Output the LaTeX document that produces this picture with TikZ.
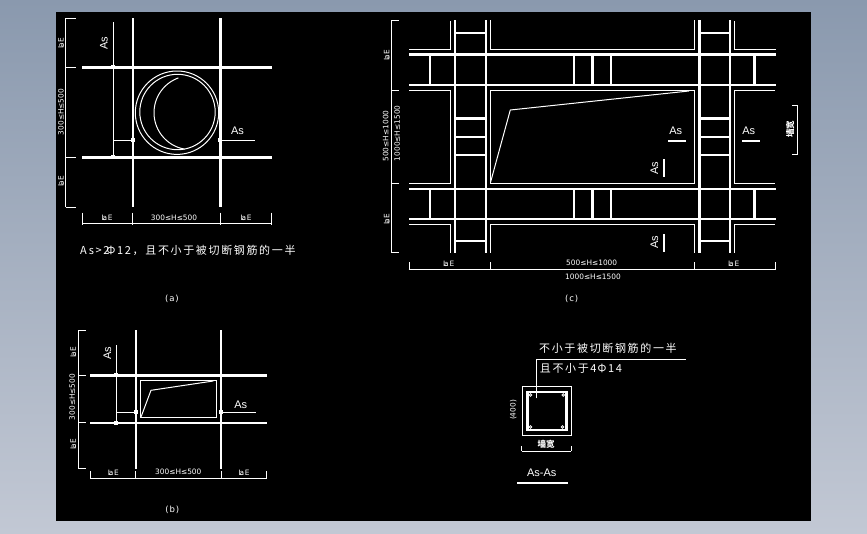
\documentclass[tikz,border=0pt]{standalone}
\usepackage{fontspec}
\setmainfont{DejaVu Sans}
\newfontfamily\cjkspaced[LetterSpace=15]{Noto Sans CJK SC}
\newfontfamily\cjkplain{Noto Sans CJK SC}
\newfontfamily\latspaced{Liberation Sans}
\newcommand{\LaE}{L\kern-.42em a\kern.1em E}
\definecolor{bgtop}{RGB}{138,153,174}
\definecolor{bgbot}{RGB}{194,200,212}
\tikzset{
  thk/.style={draw=white,line width=2.4pt},
  thkb/.style={draw=white,line width=3.2pt},
  thn/.style={draw=white,line width=1pt},
  mid/.style={draw=white,line width=1.6pt},
  dimtxt/.style={text=white,inner sep=0pt,font=\fontsize{7.4}{8}\selectfont},
  astxt/.style={text=white,inner sep=0pt,font=\latspaced\fontsize{11}{12}\selectfont},
  captxt/.style={text=white,inner sep=0pt,font=\fontsize{8.5}{9}\selectfont\addfontfeature{LetterSpace=10}},
  cntxt/.style={text=white,inner sep=0pt,anchor=west,font=\cjkspaced\fontsize{11}{12}\selectfont},
  walltxt/.style={text=white,inner sep=0pt,font=\cjkplain\bfseries\fontsize{8.5}{9}\selectfont}
}
\begin{document}
\begin{tikzpicture}[x=1pt,y=-1pt]
\useasboundingbox (0,0) rectangle (867,533);
\shade[top color=bgtop,bottom color=bgbot] (0,0) rectangle (867,533);
\fill[black] (56,12) rectangle (811,521);

%% ---------- panel (a)
\draw[thk] (132.7,18)--(132.7,207) (220.3,18)--(220.3,207);
\draw[thk] (82.3,67.3)--(271.7,67.3) (82.3,157.3)--(271.7,157.3);
\draw[thn] (65.7,18)--(65.7,207);
\foreach \y in {18,67.3,157.3,207} \draw[thn] (65.7,\y)--(75.7,\y);
\draw[thn] (82.3,223.7)--(271.7,223.7);
\foreach \x in {82.3,132.5,220.3,271.7} \draw[thn] (\x,212.7)--(\x,224.5);
\draw[thn] (113.3,22.3)--(113.3,157.3) (113.3,140.3)--(132.7,140.3) (220.3,140.3)--(255,140.3);
\foreach \x/\y in {113.3/67.3,113.3/157.3,132.7/140.3,220.3/140.3}
  \fill[white] (\x-2,\y-2) rectangle (\x+2,\y+2);
\draw[thn] (177,112.7) circle[radius=41.7pt];
\draw[thn] (177.5,112) circle[radius=37.7pt];
\draw[thn] plot[domain=100:250,samples=40,smooth] ({191+37*cos(\x)},{112.7+37*sin(\x)});
\node[astxt,rotate=90] (asa1) at (104,43) {As};
\node[astxt] (asa2) at (237.5,131) {As};
\node[dimtxt,rotate=90] (da1) at (61,43) {\LaE};
\node[dimtxt,rotate=90] (da2) at (61,112) {300≤H≤500};
\node[dimtxt,rotate=90] (da3) at (61,181) {\LaE};
\node[dimtxt] (da4) at (107,218) {\LaE};
\node[dimtxt] (da5) at (174,218) {300≤H≤500};
\node[dimtxt] (da6) at (246,218) {\LaE};
\node[cntxt] (mainnote) at (80,250) {As>2\kern-.25em Φ12，且不小于被切断钢筋的一半};
\node[captxt] (capa) at (172,299) {(a)};

%% ---------- panel (b)
\draw[thk] (136,330)--(136,468.7) (221,330)--(221,468.7);
\draw[thkb] (90,375.3)--(267,375.3);
\draw[thk] (90,423)--(267,423);
\draw[thn] (78.3,330)--(78.3,468);
\foreach \y in {330,375.3,422.3,468} \draw[thn] (78.3,\y)--(85.7,\y);
\draw[thn] (90.3,478.3)--(266.7,478.3);
\foreach \x in {90.3,135.7,221,266.7} \draw[thn] (\x,471)--(\x,479);
\draw[thn] (116.3,345)--(116.3,423) (116.3,412)--(136,412) (221,412)--(256,412);
\foreach \x/\y in {116.3/375.3,116.3/423,136/412,221/412}
  \fill[white] (\x-2,\y-2) rectangle (\x+2,\y+2);
\draw[thn] (140.3,380.3) rectangle (216.7,417.7);
\draw[thn] (141,417)--(151,390.3)--(213.3,381);
\node[astxt,rotate=90] (asb1) at (107.3,353) {As};
\node[astxt] (asb2) at (240.7,405) {As};
\node[dimtxt,rotate=90] (db1) at (73.3,352) {\LaE};
\node[dimtxt,rotate=90] (db2) at (72.3,397) {300≤H≤500};
\node[dimtxt,rotate=90] (db3) at (73.3,444) {\LaE};
\node[dimtxt] (db4) at (113.3,473) {\LaE};
\node[dimtxt] (db5) at (178.3,472) {300≤H≤500};
\node[dimtxt] (db6) at (244,473) {\LaE};
\node[captxt] (capb) at (172.3,510) {(b)};

%% ---------- panel (c)
\foreach \x in {455,485.7,699.3,730} \draw[thk] (\x,20)--(\x,252.7);
\draw[thkb] (409,54.3)--(776,54.3);
\foreach \y in {85,189,219} \draw[thk] (409,\y)--(776,\y);
\foreach \xa/\xb in {455/485.7,699.3/730}{
  \foreach \y in {33,137,155,240.7} \draw[white,line width=1.7pt] (\xa,\y)--(\xb,\y);
  \draw[white,line width=2.8pt] (\xa,118.3)--(\xb,118.3);
}
\foreach \x in {430,574,592.3,611,754.3}{
  \draw[thk] (\x,54.3)--(\x,85);
  \draw[thk] (\x,189)--(\x,219);
}
\draw[thn] (450.3,21)--(450.3,49.3)--(409,49.3);
\draw[thn] (490.3,20)--(490.3,49.3)--(694.7,49.3)--(694.7,20);
\draw[thn] (734.3,21)--(734.3,49.3)--(776,49.3);
\draw[thn] (409,90.3)--(450.3,90.3)--(450.3,183.3)--(409,183.3);
\draw[thn] (490.3,90.3) rectangle (694.7,183.3);
\draw[thn] (775,90.3)--(734.3,90.3)--(734.3,183.3)--(775,183.3);
\draw[thn] (409,224.3)--(450.3,224.3)--(450.3,252.7);
\draw[thn] (490.3,252.7)--(490.3,224.3)--(694.7,224.3)--(694.7,252.7);
\draw[thn] (734.3,252.7)--(734.3,224.3)--(775,224.3);
\draw[thn] (490.7,181.7)--(510.3,110)--(689,91);
\draw[thn] (391.7,20.3)--(391.7,252.7);
\foreach \y in {20.3,90.3,183.3,252.7} \draw[thn] (391.7,\y)--(399,\y);
\draw[thn] (408.5,269.3)--(776,269.3);
\foreach \x in {409,490.3,694.3,775.3} \draw[thn] (\x,262.3)--(\x,270);
\draw[thn] (797.7,105)--(797.7,154.3) (792.3,105)--(797.7,105) (792.3,154.3)--(797.7,154.3);
\draw[mid] (668,141)--(686,141) (742.3,141)--(760,141);
\draw[mid] (663.7,159)--(663.7,176.7) (663.7,234)--(663.7,251.7);
\node[astxt] (asc1) at (675.7,131) {As};
\node[astxt] (asc2) at (748.7,131) {As};
\node[astxt,rotate=90] (asc3) at (654.3,168.3) {As};
\node[astxt,rotate=90] (asc4) at (654.3,242.3) {As};
\node[dimtxt,rotate=90] (dc1) at (386.7,55) {\LaE};
\node[dimtxt,rotate=90] (dc2) at (385.7,136) {500≤H≤1000};
\node[dimtxt,rotate=90] (dc3) at (397.3,133.3) {1000≤H≤1500};
\node[dimtxt,rotate=90] (dc4) at (386.7,219) {\LaE};
\node[dimtxt] (dc5) at (448.7,264.3) {\LaE};
\node[dimtxt] (dc6) at (591.7,263.3) {500≤H≤1000};
\node[dimtxt] (dc7) at (593,277.3) {1000≤H≤1500};
\node[dimtxt] (dc8) at (733.7,264.3) {\LaE};
\node[walltxt,rotate=90] (wallc) at (790,129) {墙宽};
\node[captxt] (capc) at (571.7,299.3) {(c)};

%% ---------- section As-As
\draw[thn] (522.3,386.3) rectangle (571.3,435.3);
\draw[white,line width=2.6pt] (527.5,392) rectangle (566.3,430);
\foreach \x/\y in {530.6/395,563.2/395,530.6/427,562.6/427}
  \draw[thn,line width=.8pt] (\x,\y) circle[radius=1.3pt];
\draw[thn] (536.7,398.3)--(536.7,359.3)--(686,359.3);
\node[cntxt] (sec1) at (539,348.3) {不小于被切断钢筋的一半};
\node[cntxt] (sec2) at (539.7,368.3) {且不小于4\kern.1em Φ14};
\node[dimtxt,rotate=90] (sec3) at (513.3,410) {(400)};
\draw[thn] (521.7,451.3)--(571.3,451.3) (521.9,446.3)--(521.9,451.3) (571.1,446.3)--(571.1,451.3);
\node[walltxt] (sec4) at (546,444.7) {墙宽};
\node[astxt] (sec5) at (541.7,472.7) {As-As};
\draw[mid] (517,482.7)--(568,482.7);
\end{tikzpicture}
\end{document}
